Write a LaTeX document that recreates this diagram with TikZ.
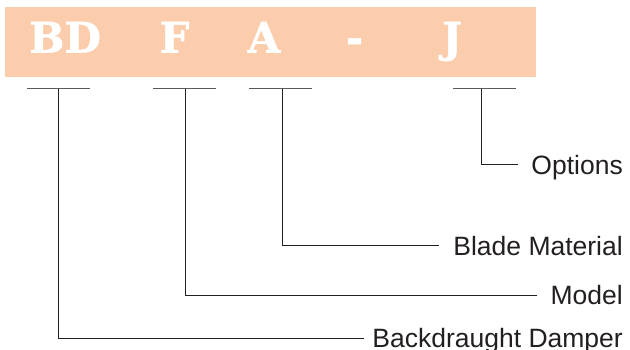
\documentclass[tikz,border=0pt]{standalone}
\usepackage{fontspec}
\setmainfont{Liberation Sans}
\newfontfamily\slabfont{DejaVu Serif}[BoldFeatures={FakeBold=1.2}]
\definecolor{bannercol}{HTML}{FBCDAD}
\definecolor{inkcol}{HTML}{231F20}
\definecolor{barcol}{HTML}{5A5A5A}
\begin{document}
\begin{tikzpicture}[x=1pt,y=-1pt,
  code/.style={text=white,font=\slabfont\bfseries\fontsize{42}{42}\selectfont,inner sep=0pt,anchor=base},
  lab/.style={text=inkcol,font=\fontsize{26.5}{26.5}\selectfont,inner sep=0pt,text height=19pt,text depth=0pt,anchor=base east},
  bar/.style={draw=barcol,line width=1.6pt},
  conn/.style={draw=inkcol,line width=1pt}]
\useasboundingbox (0,0) rectangle (630,350);
\fill[bannercol] (5,7) rectangle (536,77);
\node[code] (cbd) at (65,52.5) {BD};
\node[code] (cf) at (174.5,52.5) {F};
\node[code] (ca) at (264,52.5) {A};
\node[code] (cdash) at (354.5,52.5) {-};
\node[code] (cj) at (452,52.5) {J};
% bars
\coordinate (b1l) at (27,88.7); \coordinate (b1r) at (90,88.7); \coordinate (b1) at (58,88.7);
\coordinate (b2l) at (153,88.7); \coordinate (b2r) at (216,88.7); \coordinate (b2) at (185.5,88.7);
\coordinate (b3l) at (249,88.7); \coordinate (b3r) at (312,88.7); \coordinate (b3) at (282.5,88.7);
\coordinate (b4l) at (453,88.7); \coordinate (b4r) at (516,88.7); \coordinate (b4) at (481.5,88.7);
\draw[bar] (b1l) -- (b1r);
\draw[bar] (b2l) -- (b2r);
\draw[bar] (b3l) -- (b3r);
\draw[bar] (b4l) -- (b4r);
% labels
\node[lab] (opt) at (623,174.5) {Options};
\node[lab] (blade) at (623,255.5) {Blade Material};
\node[lab] (model) at (623,304.5) {Model};
\node[lab] (bdd) at (623,347.5) {Backdraught Damper};
% connectors
\draw[conn] (b4) |- ([xshift=-13pt]opt.west);
\draw[conn] (b3) |- ([xshift=-14pt]blade.west);
\draw[conn] (b2) |- ([xshift=-13pt]model.west);
\draw[conn] (b1) |- ([xshift=-8pt]bdd.west);
\end{tikzpicture}
\end{document}
